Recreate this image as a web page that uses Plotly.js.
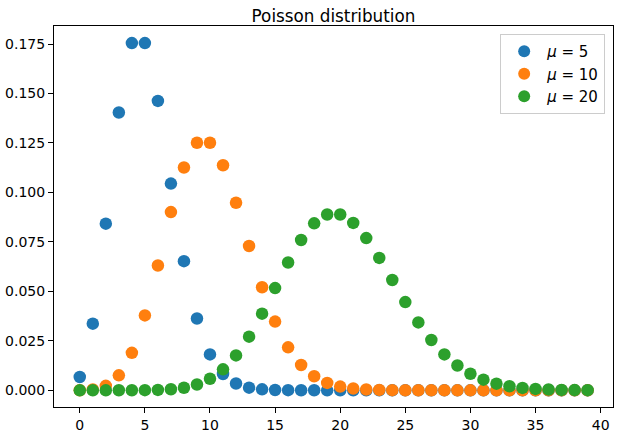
<!DOCTYPE html>
<html>
<head>
<meta charset="utf-8">
<script src="https://cdn.plot.ly/plotly-3.0.1.min.js"></script>
<style>html,body{margin:0;padding:0;background:#fff}#chart{width:619px;height:435px}</style>
</head>
<body>
<div id="chart"></div>
<script>
const k = [0,1,2,3,4,5,6,7,8,9,10,11,12,13,14,15,16,17,18,19,20,21,22,23,24,25,26,27,28,29,30,31,32,33,34,35,36,37,38,39];
const seriesNames = ["<i>μ</i> = 5", "<i>μ</i> = 10", "<i>μ</i> = 20"];
const colors = ["#1f77b4", "#ff7f0e", "#2ca02c"];
const mu5 = [0.006738,0.033690,0.084224,0.140374,0.175467,0.175467,0.146223,0.104445,0.065278,0.036266,
  0.018133,0.008242,0.003434,0.001321,0.000472,0.000157,0.000049,0.000015,0.000004,0.000001,
  0,0,0,0,0,0,0,0,0,0,0,0,0,0,0,0,0,0,0,0];
const mu10 = [0.000045,0.000454,0.002270,0.007567,0.018917,0.037833,0.063055,0.090079,0.112599,0.125110,
  0.125110,0.113736,0.094780,0.072908,0.052077,0.034718,0.021699,0.012764,0.007091,0.003732,
  0.001866,0.000889,0.000404,0.000176,0.000073,0.000029,0.000011,0.000004,0.000002,0.000001,
  0,0,0,0,0,0,0,0,0,0];
const mu20 = [0.000000,0.000000,0.000000,0.000003,0.000014,0.000055,0.000183,0.000523,0.001309,0.002908,
  0.005816,0.010575,0.017625,0.027116,0.038737,0.051649,0.064561,0.075954,0.084394,0.088835,
  0.088835,0.084605,0.076914,0.066881,0.055735,0.044588,0.034298,0.025406,0.018147,0.012515,
  0.008344,0.005383,0.003364,0.002039,0.001199,0.000685,0.000381,0.000206,0.000108,0.000055];
const xTicks = [0,5,10,15,20,25,30,35,40];
const yTicks = [0,0.025,0.05,0.075,0.1,0.125,0.15,0.175];

const all = [mu5, mu10, mu20];
const traces = all.map((ys, i) => ({
  x: k, y: ys, type: 'scatter', mode: 'markers', name: seriesNames[i],
  marker: {color: colors[i], size: 12.5}
}));

const font = {family: 'DejaVu Sans, sans-serif', color: '#000'};
const axisCommon = {
  showline: true, linecolor: '#000', linewidth: 1, mirror: true,
  ticks: 'outside', ticklen: 5, tickwidth: 1, tickcolor: '#000',
  showgrid: false, zeroline: false,
  tickfont: Object.assign({}, font, {size: 14})
};
const layout = {
  width: 619, height: 435,
  margin: {l: 54, r: 6, t: 26, b: 28, pad: 0},
  paper_bgcolor: '#fff', plot_bgcolor: '#fff',
  font: font,
  title: {text: 'Poisson distribution', font: Object.assign({}, font, {size: 16.8}),
    x: 0.5, xref: 'paper', xanchor: 'center', y: 1, yref: 'paper', yanchor: 'bottom', pad: {b: 4}},
  xaxis: Object.assign({}, axisCommon, {range: [-1.98, 40.95], tickvals: xTicks, ticktext: xTicks.map(String)}),
  yaxis: Object.assign({}, axisCommon, {range: [-0.00844, 0.1841], tickvals: yTicks, ticktext: yTicks.map(v => v.toFixed(3))}),
  showlegend: true,
  legend: {
    x: 0.986, y: 0.979, xanchor: 'right', yanchor: 'top',
    bgcolor: 'rgba(255,255,255,0.8)', bordercolor: '#cccccc', borderwidth: 1,
    font: Object.assign({}, font, {size: 15}),
    itemsizing: 'constant', itemwidth: 36, tracegroupgap: 0
  }
};
Plotly.newPlot('chart', traces, layout, {displayModeBar: false, staticPlot: true});
</script>
</body>
</html>
